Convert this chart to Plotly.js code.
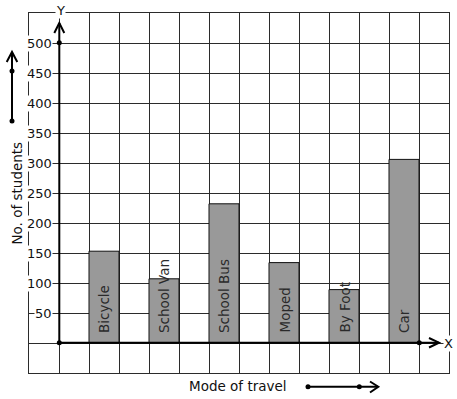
<!DOCTYPE html>
<html>
<head>
<meta charset="utf-8">
<script src="https://cdn.plot.ly/plotly-3.0.1.min.js"></script>
<style>html,body{margin:0;padding:0;background:#fff;}#chart{width:457px;height:399px;}</style>
</head>
<body>
<div id="chart"></div>
<script>
// ---- data ----
const categories = ['Bicycle', 'School Van', 'School Bus', 'Moped', 'By Foot', 'Car'];
const students = [153, 107, 232, 134, 89, 306];
const yTickValues = [50, 100, 150, 200, 250, 300, 350, 400, 450, 500];
const xTitle = 'Mode of travel';
const yTitle = 'No. of students';

// ---- layout helpers (pixel -> paper) ----
const L = 29, T = 13, W = 420, H = 360;
const px = x => (x - L) / W;
const py = y => 1 - (y - T) / H;
const FONT = 'DejaVu Sans, sans-serif';
const GRID = '#2b2b2b';

const barX = categories.map((c, i) => 1.5 + 2 * i);

const trace = {
  type: 'bar',
  x: barX,
  y: students,
  width: 1,
  marker: {color: '#999999', line: {color: '#111111', width: 1}},
  hoverinfo: 'none'
};

function line(x0, y0, x1, y1, w) {
  return {type: 'line', xref: 'paper', yref: 'paper', x0: px(x0), y0: py(y0), x1: px(x1), y1: py(y1),
          line: {color: '#000', width: w || 2}};
}
function chev(pts) {
  const d = pts.map((p, i) => (i ? 'L' : 'M') + px(p[0]) + ',' + py(p[1])).join(' ');
  return {type: 'path', xref: 'paper', yref: 'paper', path: d, line: {color: '#000', width: 2}};
}
function dot(x, y) {
  const r = 2.5;
  return {type: 'circle', xref: 'paper', yref: 'paper', x0: px(x - r), x1: px(x + r), y0: py(y + r), y1: py(y - r),
          fillcolor: '#000', line: {color: '#000', width: 0}};
}

const shapes = [
  line(59.3, 342.7, 59.3, 23),
  chev([[54.3, 33], [59.3, 23], [64.3, 33]]),
  line(59.3, 342.7, 439, 342.7),
  chev([[429, 338], [439, 342.7], [429, 347.5]]),
  line(12, 121, 12, 52),
  chev([[6.7, 62], [12, 52], [17.3, 62]]),
  line(308, 386.7, 378, 386.7),
  chev([[370, 381.5], [378.3, 386.7], [370, 392.5]]),
  dot(59.3, 342.7), dot(59.3, 42.7), dot(419.3, 342.7),
  dot(12, 71), dot(12, 121), dot(308, 386.7), dot(359.3, 386.7)
];

const annotations = [];
yTickValues.forEach(v => annotations.push({
  x: 0, y: v, xref: 'x', yref: 'y', text: String(v), showarrow: false,
  xanchor: 'right', yanchor: 'middle', xshift: -6, bgcolor: '#fff', borderpad: 0,
  font: {family: FONT, size: 13, color: '#111'}
}));
categories.forEach((c, i) => annotations.push({
  x: barX[i], y: 0, xref: 'x', yref: 'y', text: c, showarrow: false, textangle: -90,
  xanchor: 'center', yanchor: 'bottom', yshift: 8,
  font: {family: FONT, size: 13.5, color: '#2a2a2a'}
}));
annotations.push({x: px(60), y: py(10), xref: 'paper', yref: 'paper', text: 'Y', showarrow: false,
  xanchor: 'center', yanchor: 'middle', bgcolor: '#fff', borderpad: 0, font: {family: FONT, size: 13, color: '#111'}});
annotations.push({x: px(448.5), y: py(343), xref: 'paper', yref: 'paper', text: 'X', showarrow: false,
  xanchor: 'center', yanchor: 'middle', bgcolor: '#fff', borderpad: 0, font: {family: FONT, size: 13, color: '#111'}});
annotations.push({x: px(16.5), y: py(193), xref: 'paper', yref: 'paper', text: yTitle, showarrow: false, textangle: -90,
  xanchor: 'center', yanchor: 'middle', font: {family: FONT, size: 13.5, color: '#111'}});
annotations.push({x: px(238), y: py(385.7), xref: 'paper', yref: 'paper', text: xTitle, showarrow: false,
  xanchor: 'center', yanchor: 'middle', font: {family: FONT, size: 13.5, color: '#111'}});

const axisCommon = {
  showgrid: true, gridcolor: GRID, gridwidth: 1, zeroline: false, showticklabels: false, ticks: '',
  showline: true, mirror: true, linecolor: GRID, linewidth: 1, fixedrange: true
};

const layout = {
  width: 457, height: 399,
  margin: {l: L, r: 457 - L - W, t: T, b: 399 - T - H, pad: 0},
  paper_bgcolor: '#fff', plot_bgcolor: '#fff',
  showlegend: false,
  font: {family: FONT},
  xaxis: Object.assign({range: [-1, 13], tick0: 0, dtick: 1}, axisCommon),
  yaxis: Object.assign({range: [-50, 550], tick0: 0, dtick: 50}, axisCommon),
  shapes: shapes,
  annotations: annotations
};

Plotly.newPlot('chart', [trace], layout, {staticPlot: true, displayModeBar: false});
</script>
</body>
</html>
